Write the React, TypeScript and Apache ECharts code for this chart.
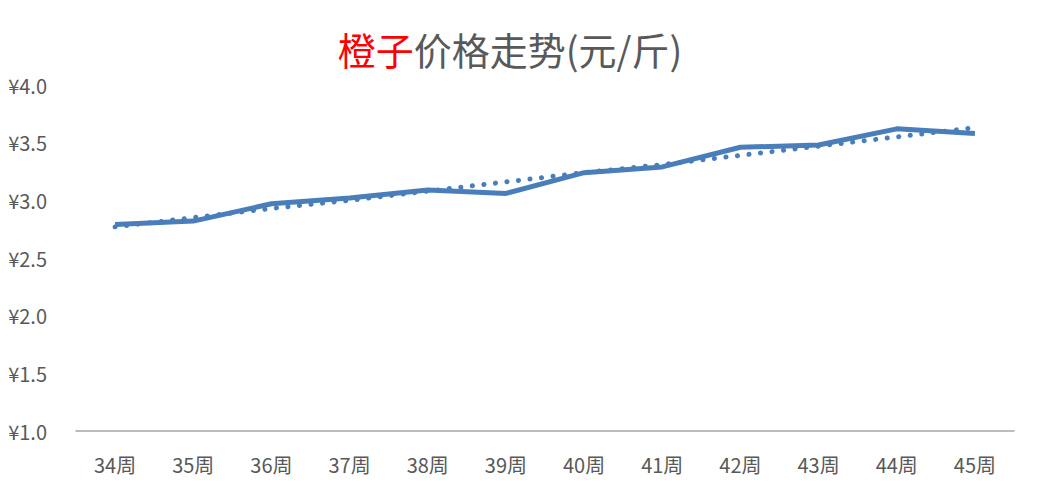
import React, { useEffect, useRef } from "react";
import * as echarts from "echarts";

const weeks = ["34周", "35周", "36周", "37周", "38周", "39周", "40周", "41周", "42周", "43周", "44周", "45周"];
const prices = [2.79, 2.82, 2.97, 3.02, 3.09, 3.06, 3.24, 3.29, 3.46, 3.48, 3.62, 3.58];
const trend = [2.77, 2.85, 2.93, 3.0, 3.08, 3.16, 3.24, 3.31, 3.39, 3.47, 3.55, 3.63];
const titleRed = "橙子";
const titleRest = "价格走势(元/斤)";

export default function App() {
  const ref = useRef<HTMLDivElement>(null);
  useEffect(() => {
    document.body.style.margin = "0";
    const chart = echarts.init(ref.current!, null, { renderer: "svg" });
    const font = "'Noto Sans CJK SC', 'Noto Sans', sans-serif";
    chart.setOption({
      animation: false,
      backgroundColor: "#ffffff",
      title: {
        text: `{a|${titleRed}}{b|${titleRest}}`,
        left: 505,
        top: 24,
        textAlign: "center",
        textStyle: {
          fontFamily: font,
          fontWeight: "normal",
          rich: {
            a: { color: "#ff0000", fontSize: 38, fontWeight: "normal", fontFamily: font },
            b: { color: "#595959", fontSize: 38, fontWeight: "normal", fontFamily: font },
          },
        },
      },
      grid: { left: 76, right: 27, top: 85, bottom: 59, containLabel: false },
      xAxis: {
        type: "category",
        data: weeks,
        boundaryGap: true,
        axisLine: { show: true, lineStyle: { color: "#a6a6a6", width: 1.5 } },
        axisTick: { show: false },
        axisLabel: { color: "#595959", fontSize: 20, fontFamily: font, margin: 23 },
      },
      yAxis: {
        type: "value",
        min: 1,
        max: 4,
        interval: 0.5,
        axisLine: { show: false },
        axisTick: { show: false },
        splitLine: { show: false },
        axisLabel: {
          color: "#595959",
          fontSize: 20,
          fontFamily: font,
          margin: 29,
          formatter: (v: number) => "¥" + v.toFixed(1),
        },
      },
      series: [
        {
          type: "line",
          data: prices,
          symbol: "none",
          lineStyle: { color: "#4a7ebb", width: 5, join: "round" },
          z: 2,
        },
        {
          type: "line",
          data: trend,
          symbol: "none",
          lineStyle: { color: "#4a7ebb", width: 5, type: [0.1, 11.5], cap: "round" },
          z: 3,
        },
      ],
    });
    return () => chart.dispose();
  }, []);
  return <div ref={ref} style={{ width: 1041, height: 490 }} />;
}
